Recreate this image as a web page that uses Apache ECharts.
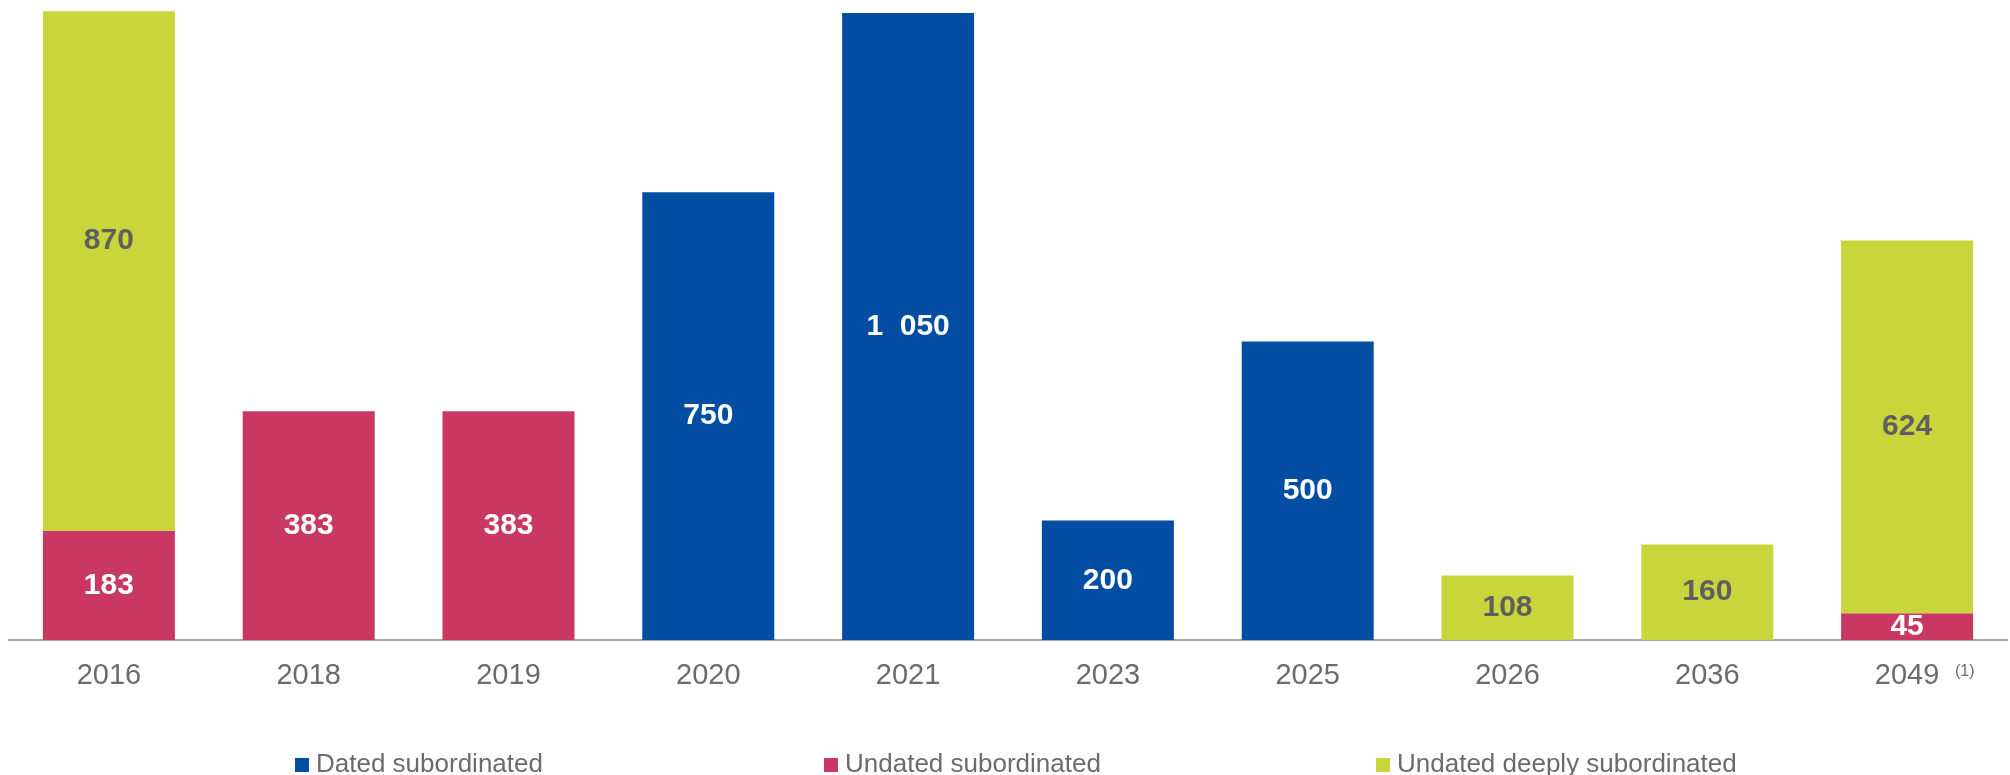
<!DOCTYPE html>
<html>
<head>
<meta charset="utf-8">
<script src="https://cdn.jsdelivr.net/npm/echarts@6/dist/echarts.min.js"></script>
<style>html,body{margin:0;padding:0;background:#fff}#c{width:2010px;height:775px}</style>
</head>
<body>
<div id="c"></div>
<script>
var categories = ['2016','2018','2019','2020','2021','2023','2025','2026','2036','2049'];
var datedSub = [null, null, null, 750, 1050, 200, 500, null, null, null];
var undatedSub = [183, 383, 383, null, null, null, null, null, null, 45];
var undatedDeeplySub = [870, null, null, null, null, null, null, 108, 160, 624];
var seriesNames = ['Dated subordinated', 'Undated subordinated', 'Undated deeply subordinated'];

var chart = echarts.init(document.getElementById('c'), null, {renderer: 'canvas'});
function fmt(v) {
  return String(v).replace(/\B(?=(\d{3})+(?!\d))/g, '  ');
}
var FONT = '"Liberation Sans", Arial, sans-serif';
function mkSeries(name, data, color, labelColor) {
  return {
    name: name,
    type: 'bar',
    stack: 'total',
    barWidth: 132,
    data: data,
    itemStyle: {color: color},
    emphasis: {disabled: true},
    label: {
      show: true,
      position: 'inside',
      color: labelColor,
      fontFamily: FONT,
      fontWeight: 'bold',
      fontSize: 30,
      formatter: function (p) { return fmt(p.value); }
    }
  };
}
var deep = undatedDeeplySub.map(function (v, i) {
  if (i === 0 && v != null) return {value: v, label: {offset: [0, -30]}};
  return v;
});
function legendAt(left, name) {
  return {
    left: left, top: 747, data: [name], icon: 'rect',
    itemWidth: 14, itemHeight: 14, itemGap: 0,
    textStyle: {fontFamily: FONT, fontSize: 26, color: '#6b6b6b', padding: [0, 0, 0, 2]},
    selectedMode: false
  };
}
chart.setOption({
  animation: false,
  grid: {left: 9, right: 3, top: 10, bottom: 135, containLabel: false},
  legend: [legendAt(290, seriesNames[0]), legendAt(819, seriesNames[1]), legendAt(1371, seriesNames[2])],
  xAxis: {
    type: 'category',
    data: categories,
    axisLine: {lineStyle: {color: '#a6a6a6', width: 2}},
    axisTick: {show: false},
    axisLabel: {color: '#6b6b6b', fontFamily: FONT, fontSize: 29, margin: 21}
  },
  yAxis: {
    type: 'value', min: 0, max: 1055, show: false,
    splitLine: {show: false}
  },
  graphic: [{
    type: 'text', left: 1955, top: 664,
    style: {text: '(1)', fontFamily: FONT, fontSize: 16, fill: '#6b6b6b'}
  }],
  series: [
    mkSeries(seriesNames[0], datedSub, '#034EA2', '#ffffff'),
    mkSeries(seriesNames[1], undatedSub, '#C83862', '#ffffff'),
    mkSeries(seriesNames[2], deep, '#C8D63C', '#5f5f5f')
  ]
});
</script>
</body>
</html>
